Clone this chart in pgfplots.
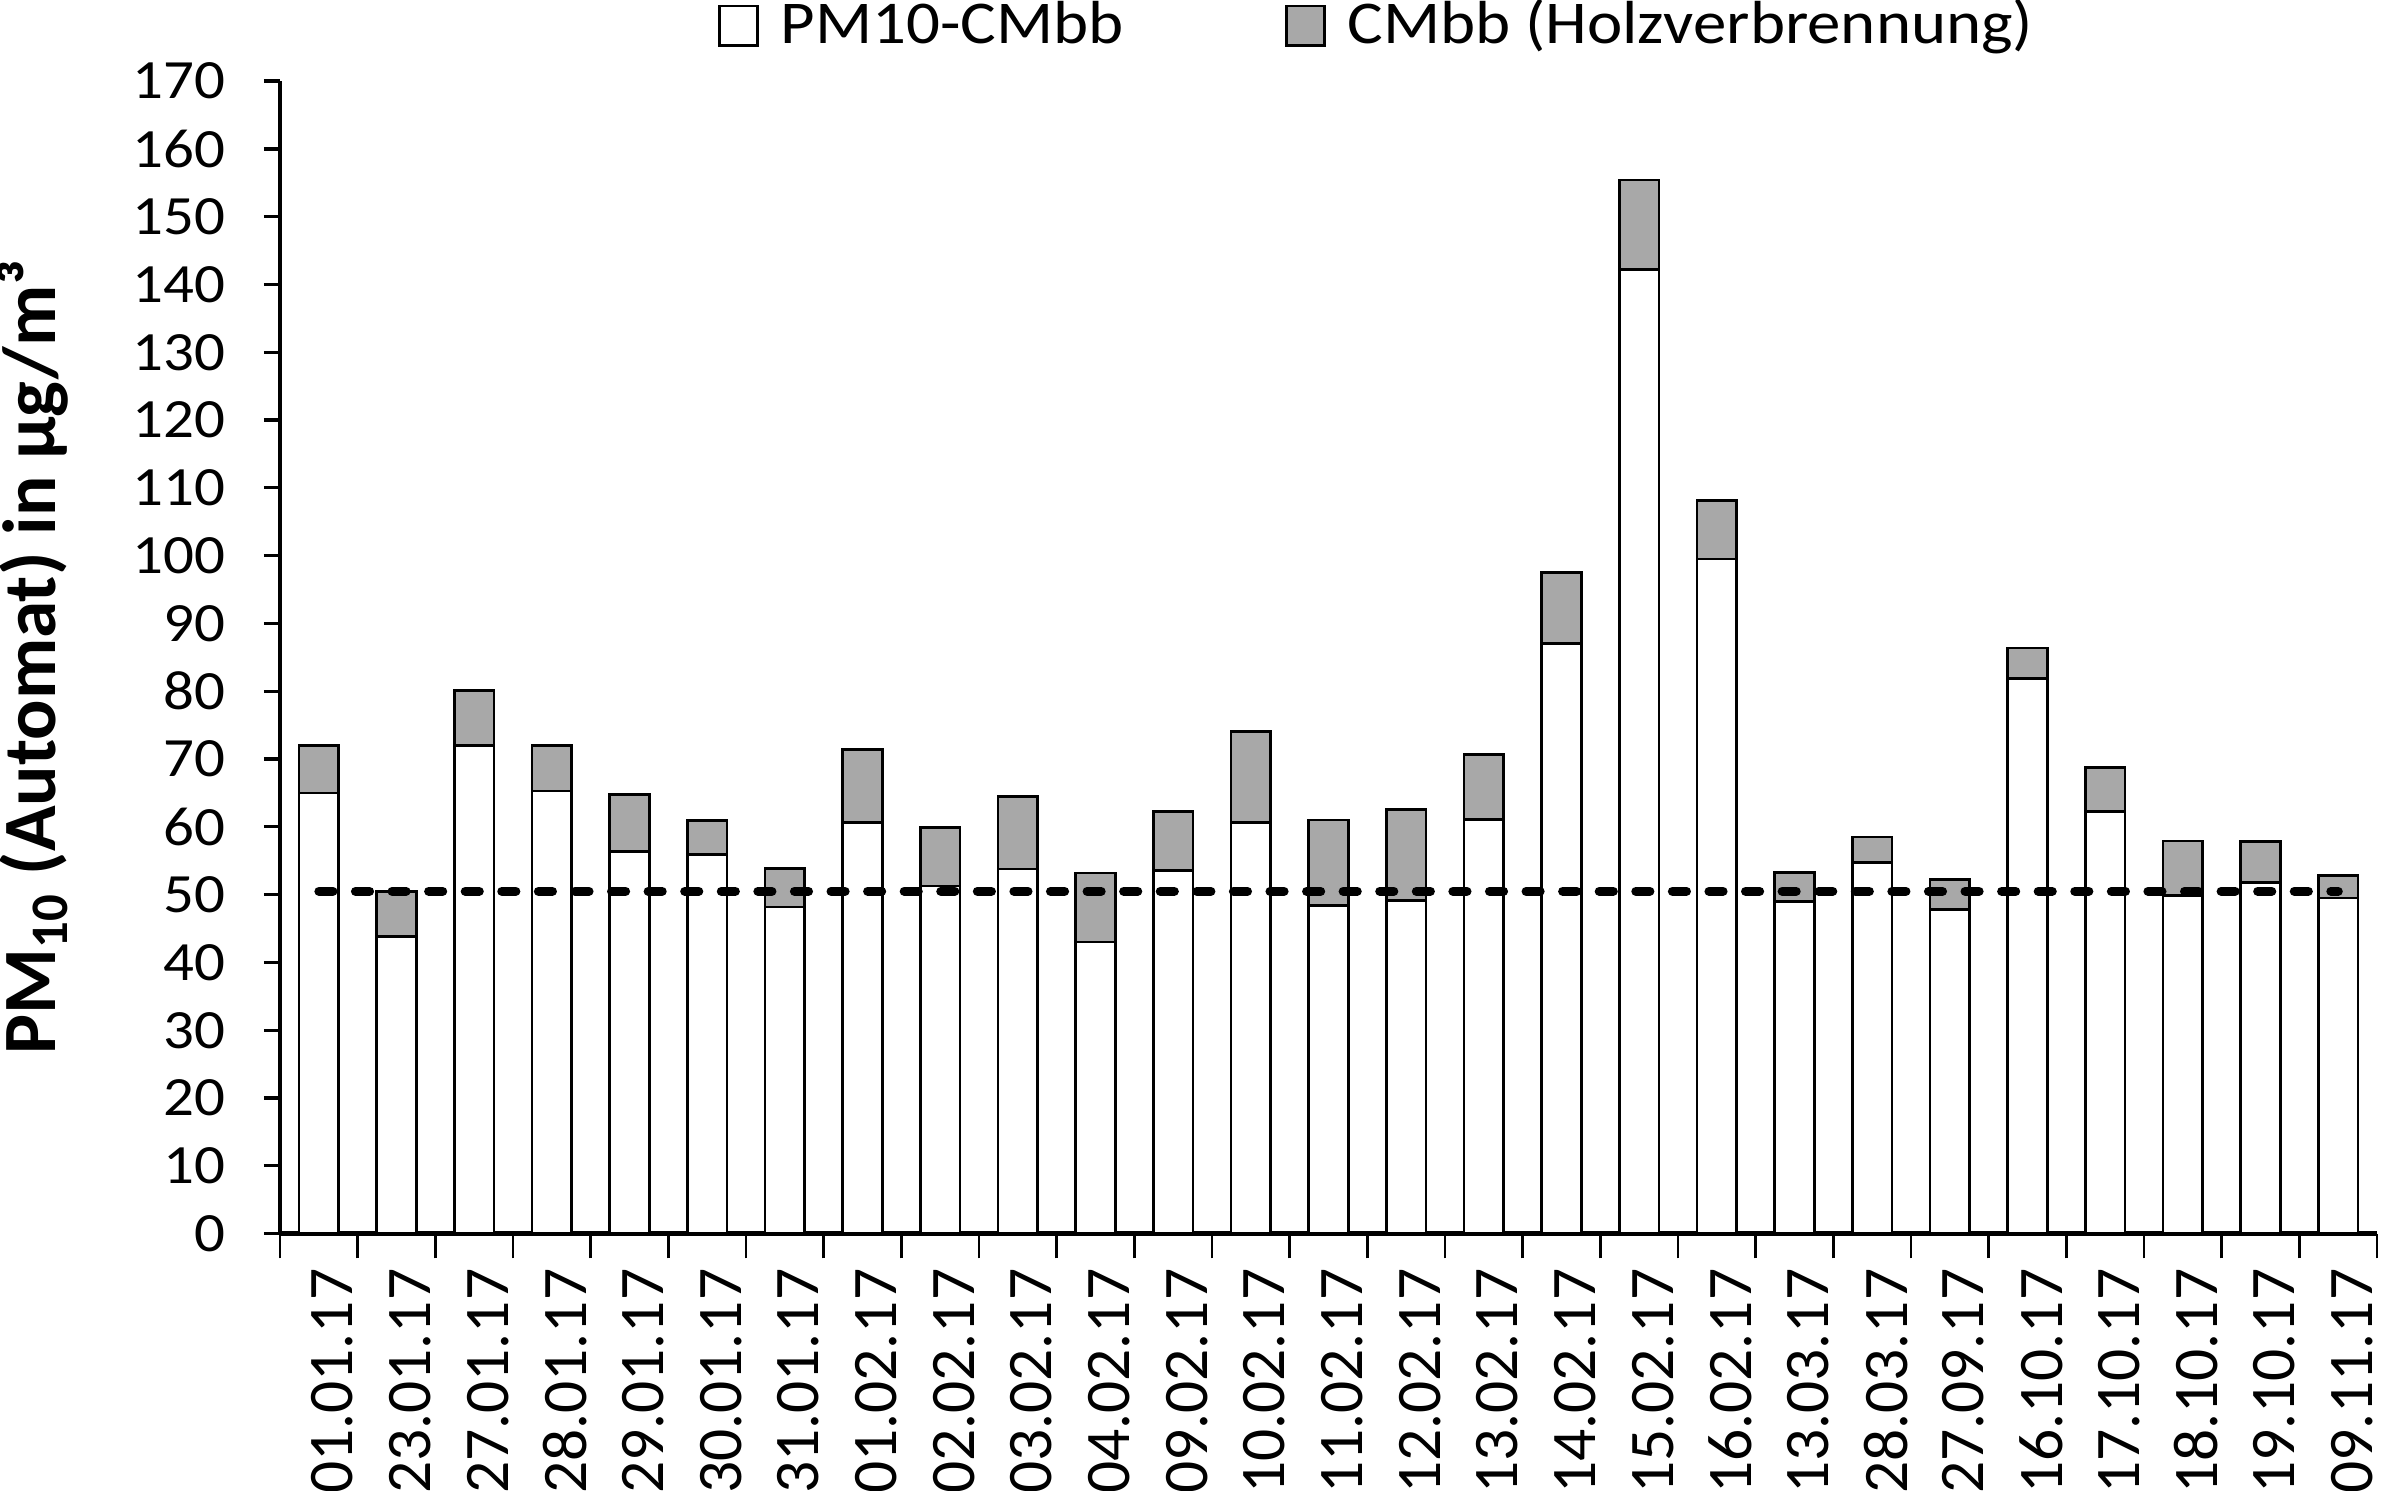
\documentclass[border=0pt]{standalone}
\usepackage{pgfplots}
\pgfplotsset{compat=1.18}
\usepackage{pgfplotstable}
\usepackage{fontspec}
\setmainfont{Carlito}[FakeStretch=1.1]
\newfontfamily\plainfont{Carlito}

\definecolor{cmbbgray}{RGB}{168,168,168}

% PM10 minus CMbb, and the CMbb part on top
\pgfplotstableread{
date     rest   cmbb
01.01.17 65.0   7.0
23.01.17 43.8   6.7
27.01.17 72.0   8.1
28.01.17 65.3   6.7
29.01.17 56.4   8.4
30.01.17 55.9   5.0
31.01.17 48.2   5.7
01.02.17 60.6   10.8
02.02.17 51.3   8.6
03.02.17 53.8   10.7
04.02.17 43.0   10.2
09.02.17 53.6   8.7
10.02.17 60.6   13.5
11.02.17 48.4   12.6
12.02.17 49.1   13.5
13.02.17 61.1   9.6
14.02.17 87.0   10.5
15.02.17 142.2  13.2
16.02.17 99.5   8.6
13.03.17 49.0   4.3
28.03.17 54.7   3.8
27.09.17 47.8   4.4
16.10.17 81.9   4.5
17.10.17 62.3   6.5
18.10.17 49.9   8.0
19.10.17 51.8   6.0
09.11.17 49.5   3.3
}\pmdata

\pgfplotsset{
  base/.style={
    scale only axis,
    width=137mm, height=75.3mm,
    xmin=0.5, xmax=27.5,
    ymin=0, ymax=170,
  },
}

\begin{document}
\begin{tikzpicture}
\begin{axis}[
  base,
  ybar stacked,
  bar width=0.51,
  axis x line*=bottom,
  axis y line*=left,
  x axis line style={line width=1pt},
  y axis line style={line width=0.6pt},
  tick align=outside,
  major tick length=3pt,
  minor tick length=4.6pt,
  ytick={0,10,...,170},
  xtick={1,...,27},
  xticklabels from table={\pmdata}{date},
  major x tick style={draw=none},
  minor xtick={0.5,1.5,...,27.5},
  minor x tick style={black, line width=0.5pt},
  y tick style={black, line width=0.6pt},
  /pgf/number format/assume math mode=true,
  yticklabel style={font=\fontsize{10.3}{12}\selectfont, xshift=-3.7pt},
  xticklabel style={font=\plainfont\fontsize{11.8}{12}\selectfont, rotate=90, anchor=east, yshift=-2.5pt},
  ylabel={\textbf{PM\textsubscript{10} (Automat) in µg/m³}},
  ylabel style={font=\plainfont\fontsize{14}{16}\selectfont, yshift=5pt},
  legend columns=2,
  legend style={draw=none, fill=none, at={(0.525,1.001)}, anchor=south,
    font=\fontsize{11.3}{12}\selectfont,
    nodes={text height=0.75em, text depth=0.25em},
    /tikz/every odd column/.append style={column sep=2pt},
    /tikz/every even column/.append style={column sep=28pt}},
  legend image code/.code={\draw[#1, line width=0.5pt] (0cm,-0.1cm) rectangle (0.25cm,0.16cm);},
]
\addplot[fill=white, draw=black, line width=0.5pt] table[x expr=\coordindex+1, y=rest] {\pmdata};
\addplot[fill=cmbbgray, draw=black, line width=0.5pt] table[x expr=\coordindex+1, y=cmbb] {\pmdata};
\legend{PM10-CMbb, CMbb (Holzverbrennung)}
\coordinate (bl) at (rel axis cs:0,0);
\end{axis}
\begin{axis}[base, hide axis]
\addplot[black, line width=1.7pt, line cap=round, dash pattern=on 2.6pt off 4.2pt]
  coordinates {(1,50.5) (27,50.5)};
\end{axis}
\pgfresetboundingbox
\path[use as bounding box] (bl) ++(-18.3mm,-16.8mm) rectangle ++(156.8mm,97.4mm);
\end{tikzpicture}
\end{document}
